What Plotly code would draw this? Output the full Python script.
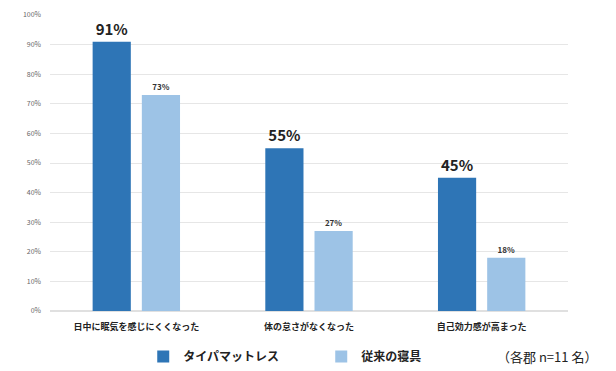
import plotly.graph_objects as go

categories = ["日中に眠気を感じにくくなった", "体の怠さがなくなった", "自己効力感が高まった"]
series_names = ["タイパマットレス", "従来の寝具"]
taipa_values = [0.91, 0.55, 0.45]
conventional_values = [0.73, 0.27, 0.18]
y_ticks = [0, 0.1, 0.2, 0.3, 0.4, 0.5, 0.6, 0.7, 0.8, 0.9, 1.0]
y_tick_labels = ["0%", "10%", "20%", "30%", "40%", "50%", "60%", "70%", "80%", "90%", "100%"]
note_text = "（各郡 n=11 名）"

FONT = "Noto Sans CJK JP"

fig = go.Figure()
fig.add_trace(go.Bar(
    x=categories, y=taipa_values, name=series_names[0],
    marker=dict(color="#2E75B6", line=dict(width=0)),
    text=[f"{round(v*100)}%" for v in taipa_values],
    textposition="outside", cliponaxis=False,
    textfont=dict(size=15, color="#222222", family=FONT, weight="bold"),
))
fig.add_trace(go.Bar(
    x=categories, y=conventional_values, name=series_names[1],
    marker=dict(color="#9DC3E6", line=dict(width=0)),
    text=[f"{round(v*100)}%" for v in conventional_values],
    textposition="outside", cliponaxis=False,
    textfont=dict(size=8, color="#333333", family=FONT, weight="bold"),
))

fig.update_layout(
    width=616, height=371,
    margin=dict(l=50, r=48, t=15, b=60, autoexpand=False),
    paper_bgcolor="white", plot_bgcolor="white",
    barmode="group", bargap=0.43, bargroupgap=0.224,
    font=dict(family=FONT, color="#333333"),
    showlegend=True,
    legend=dict(
        orientation="h", x=0.18, y=-0.105, xanchor="left", yanchor="top",
        font=dict(size=12, family=FONT, color="#222222", weight="bold"),
        entrywidth=133, entrywidthmode="pixels",
        itemwidth=30,
    ),
    xaxis=dict(
        tickfont=dict(size=9, family=FONT, color="#222222", weight="bold"),
        showline=False, ticks="", ticklabelstandoff=9,
    ),
    yaxis=dict(
        range=[0, 1], tickvals=y_ticks, ticktext=y_tick_labels,
        tickfont=dict(size=7, family=FONT, color="#666666"),
        gridcolor="#E6E6E6", gridwidth=1, zeroline=True, zerolinecolor="#E0E0E0",
        ticks="", ticklabelstandoff=8,
    ),
    annotations=[dict(
        text=note_text, x=1.06, xref="paper", y=-0.115, yref="paper",
        showarrow=False, xanchor="right", yanchor="top",
        font=dict(size=13, family=FONT, color="#222222"),
    )],
)

fig.write_html("out.html", config={"displayModeBar": False},
               post_script="document.body.style.margin='0';")
